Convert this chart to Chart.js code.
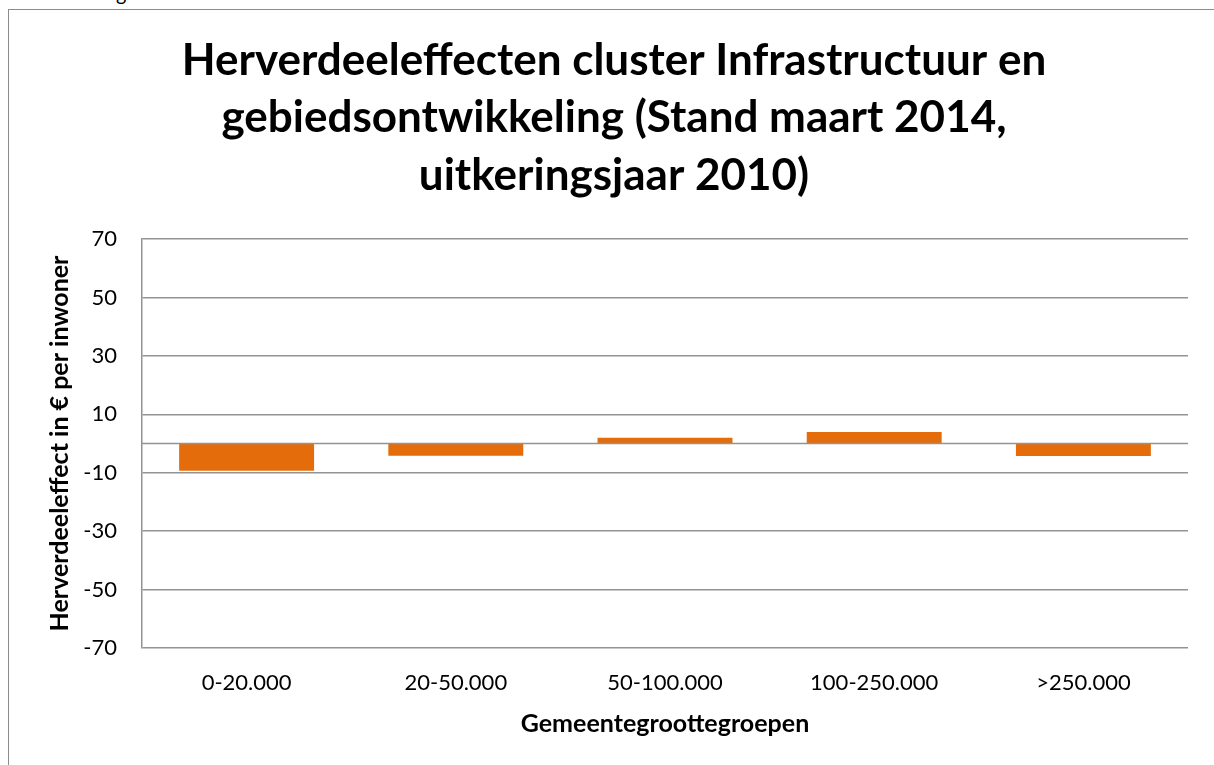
<!DOCTYPE html>
<html>
<head>
<meta charset="utf-8">
<script src="https://cdn.jsdelivr.net/npm/chart.js@4.4.1/dist/chart.umd.min.js"></script>
<style>
  html, body { margin: 0; padding: 0; width: 1214px; height: 765px; overflow: hidden; background: #fff; }
  #frame { position: absolute; left: 8px; top: 9px; width: 1300px; height: 900px;
           border-left: 1.5px solid #8c8c8c; border-top: 1.5px solid #8c8c8c; }
  #frag { position: absolute; left: 116px; top: -17px; font: 20px Lato, sans-serif; color: #000; line-height: 20px; }
  #wrap { position: absolute; left: 0; top: 0; width: 1214px; height: 765px; }
</style>
</head>
<body>
<div id="frag">g</div>
<div id="frame"></div>
<div id="wrap"><canvas id="myChart"></canvas></div>
<script>
const categories = ['0-20.000', '20-50.000', '50-100.000', '100-250.000', '>250.000'];
const values = [-9.3, -4.2, 2.0, 3.9, -4.3];
const titleLines = ['Herverdeeleffecten cluster Infrastructuur en', 'gebiedsontwikkeling (Stand maart 2014,', 'uitkeringsjaar 2010)'];
const yTitle = 'Herverdeeleffect in € per inwoner';
const xTitle = 'Gemeentegroottegroepen';

const gridColor = '#939393';

// the horizontal axis crosses at 0 in the original
const zeroLine = {
    id: 'zeroLine',
    afterDatasetsDraw(chart) {
        const { ctx, chartArea, scales } = chart;
        const y0 = scales.y.getPixelForValue(0);
        ctx.save();
        ctx.strokeStyle = gridColor;
        ctx.lineWidth = 1.5;
        ctx.beginPath();
        ctx.moveTo(chartArea.left, y0);
        ctx.lineTo(chartArea.right, y0);
        ctx.stroke();
        ctx.restore();
    }
};

const ctx = document.getElementById('myChart').getContext('2d');
const myChart = new Chart(ctx, {
    type: 'bar',
    data: {
        labels: categories,
        datasets: [{
            data: values,
            backgroundColor: '#e46c0a',
            borderWidth: 0,
            barPercentage: 0.645,
            categoryPercentage: 1
        }]
    },
    plugins: [zeroLine],
    options: {
        responsive: true,
        maintainAspectRatio: false,
        animation: false,
        layout: { padding: { left: 40, right: 26, top: 0, bottom: 0 } },
        plugins: {
            legend: { display: false },
            tooltip: { enabled: false },
            title: {
                display: true,
                text: titleLines,
                color: '#000',
                font: { family: 'Lato', size: 44, weight: 'bold', lineHeight: '57.5px' },
                padding: { top: 32, bottom: 34.5 }
            }
        },
        scales: {
            x: {
                grid: { display: false },
                border: { display: false },
                ticks: { color: '#000', font: { family: 'Lato', size: 22 }, padding: 14, maxRotation: 0 },
                title: {
                    display: true,
                    text: xTitle,
                    color: '#000',
                    font: { family: 'Lato', size: 25, weight: 'bold', lineHeight: 1.2 },
                    padding: { top: 0, bottom: 26 }
                },
                afterFit: (s) => { s.height = 117; }
            },
            y: {
                min: -70,
                max: 70,
                ticks: { stepSize: 20, color: '#000', font: { family: 'Lato', size: 22 }, padding: 25 },
                grid: { color: gridColor, lineWidth: 1.5, drawTicks: false },
                border: { display: true, color: gridColor, width: 1.5 },
                title: {
                    display: true,
                    text: yTitle,
                    color: '#000',
                    font: { family: 'Lato', size: 25, weight: 'bold', lineHeight: 1.2 },
                    padding: { top: 5, bottom: 0 }
                },
                afterFit: (s) => { s.width = 102; }
            }
        }
    }
});
</script>
</body>
</html>
